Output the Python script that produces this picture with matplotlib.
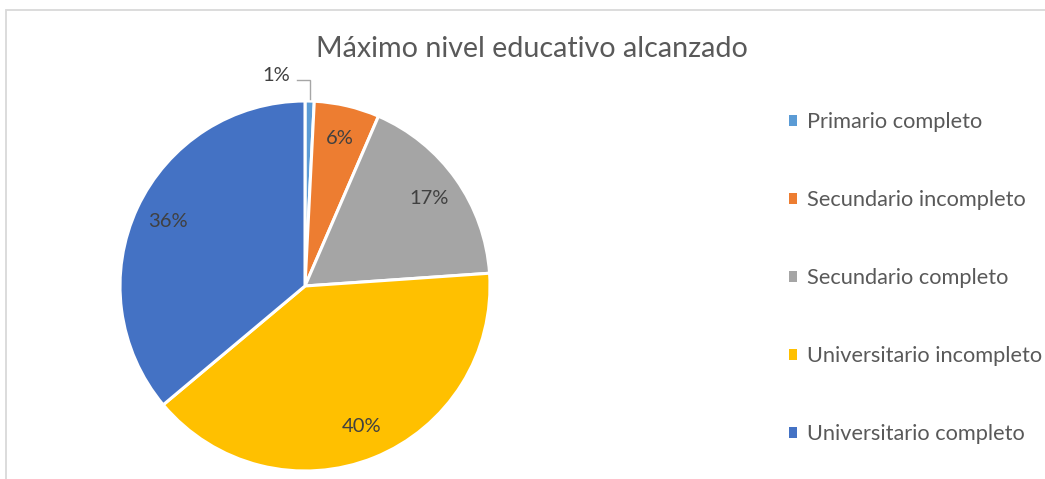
import matplotlib
matplotlib.use("Agg")
import matplotlib.pyplot as plt
from matplotlib.patches import Patch, Rectangle
import numpy as np

categories = ["Primario completo", "Secundario incompleto", "Secundario completo",
              "Universitario incompleto", "Universitario completo"]
values = [0.8, 5.7, 17.4, 40.0, 36.1]
pct_labels = ["1%", "6%", "17%", "40%", "36%"]
colors = ["#5B9BD5", "#ED7D31", "#A5A5A5", "#FFC000", "#4472C4"]
title = "Máximo nivel educativo alcanzado"

plt.rcParams['font.family'] = ['Lato', 'DejaVu Sans']

W, H = 1045, 479
fig = plt.figure(figsize=(W / 100, H / 100), dpi=100)
fig.patch.set_facecolor("white")

# chart border (light gray frame)
fig.add_artist(Rectangle((5.5 / W, -0.1), 1.2, (H - 9.5) / H + 0.1, transform=fig.transFigure,
                         fill=False, edgecolor="#D9D9D9", linewidth=1.3))

cx, cy, R = 305, H - 286, 185
ax = fig.add_axes([(cx - R) / W, (cy - R) / H, 2 * R / W, 2 * R / H])
wedges, _ = ax.pie(values, colors=colors, startangle=90, counterclock=False,
                   wedgeprops=dict(edgecolor="white", linewidth=2.2), radius=1.0)
ax.set_xlim(-1, 1)
ax.set_ylim(-1, 1)
ax.set_aspect("equal")
ax.axis("off")

for i, (w, lab) in enumerate(zip(wedges, pct_labels)):
    mid = np.deg2rad((w.theta1 + w.theta2) / 2)
    if i == 0:
        ex, ey = np.cos(mid), np.sin(mid)
        tx, ty = -0.157, 1.14
        ax.text(tx, ty, lab, ha="center", va="center", fontsize=14.5, color="#404040")
        ly = ty - 0.028
        ax.plot([tx + 0.115, ex, ex], [ly, ly, ey + 0.01], color="#A6A6A6", lw=1.0,
                clip_on=False, solid_joinstyle="miter")
    else:
        d = 0.82
        ax.text(d * np.cos(mid), d * np.sin(mid), lab, ha="center", va="center",
                fontsize=14.5, color="#404040")

fig.text(532 / W, 1 - 57 / H, title, ha="center", va="baseline", fontsize=20.6, color="#595959")

handles = [Patch(facecolor=c, edgecolor="none") for c in colors]
leg = fig.legend(handles, categories, loc="upper left", bbox_to_anchor=(789 / W, 1 - 112 / H),
                 frameon=False, fontsize=15.7, labelcolor="#595959",
                 handlelength=0.38, handleheight=0.38, handletextpad=0.45,
                 labelspacing=2.66, borderaxespad=0, borderpad=0)

fig.savefig("out.png", dpi=100, facecolor="white")
